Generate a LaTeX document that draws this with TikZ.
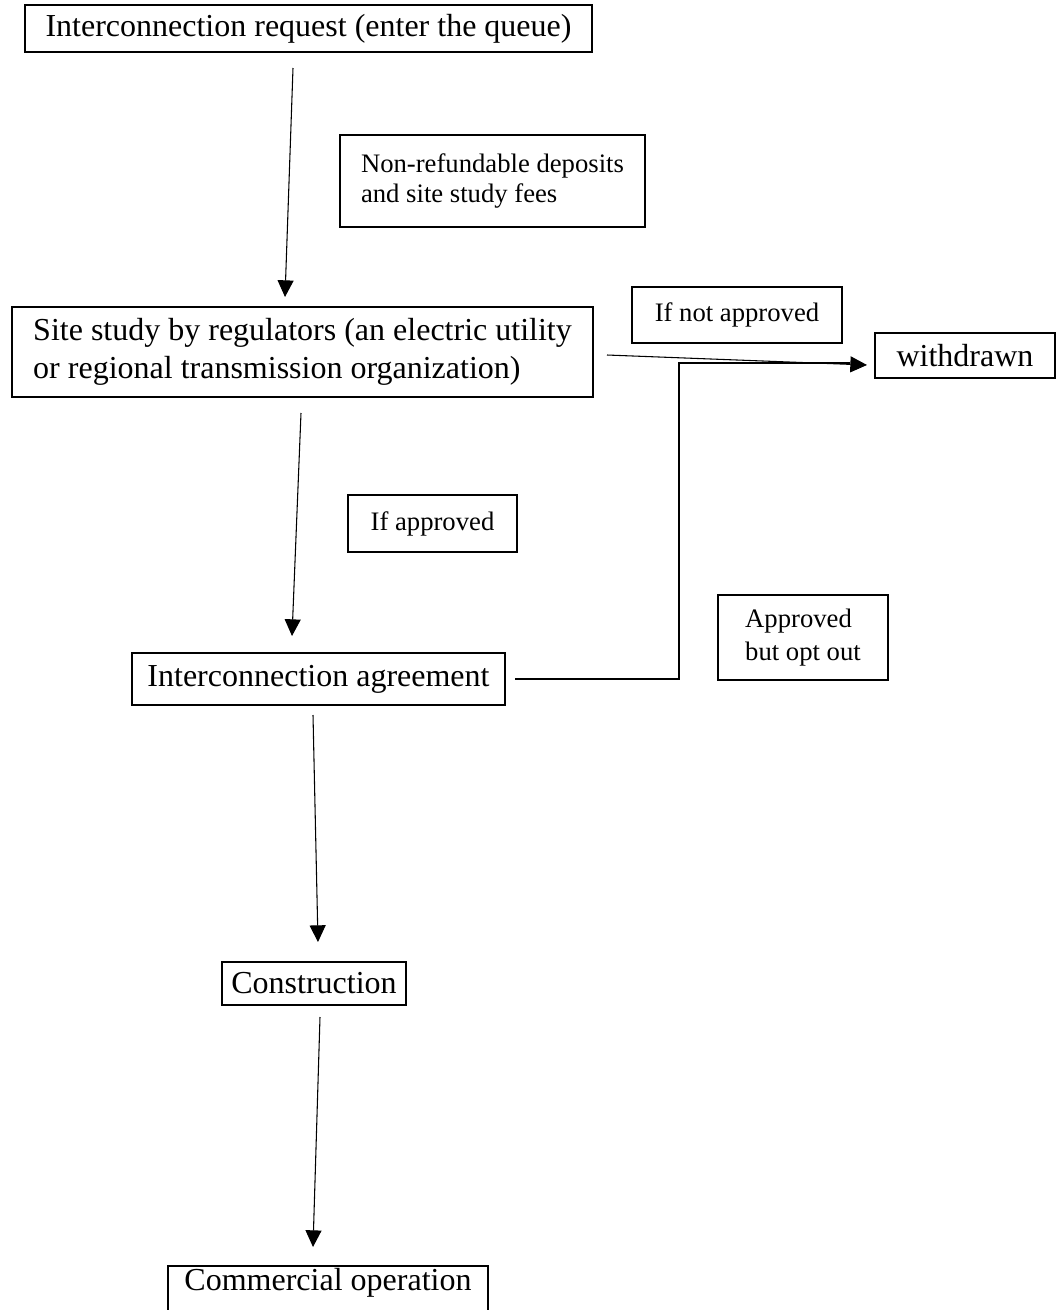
\documentclass[tikz,border=0pt]{standalone}
\usepackage{fontspec}
\setmainfont{Liberation Serif}
\usetikzlibrary{arrows.meta}
\tikzset{
  box/.style={draw, line width=1.5pt, inner sep=0pt, font=\fontsize{24}{28}\selectfont},
  smallbox/.style={draw, line width=1.5pt, inner sep=0pt, font=\fontsize{20}{23}\selectfont},
  conn/.style={line width=0.8pt, -{Triangle[length=12.5pt,width=12pt]}},
  plain/.style={line width=0.8pt}
}
\begin{document}
\begin{tikzpicture}[x=0.75pt,y=-0.75pt]
\useasboundingbox (0,0) rectangle (1058,1310);
\clip (0,0) rectangle (1058,1310);
% boxes
\node[box, minimum width=425.25pt, minimum height=35.25pt, align=center] (req) at (308.5,28.5) {Interconnection request (enter the queue)};
\node[smallbox, minimum width=228.75pt, minimum height=69pt, align=left, font=\fontsize{20}{23}\selectfont] (fees) at (492.5,181) {Non-refundable deposits\\and site study fees};
\node[box, minimum width=435.75pt, minimum height=67.5pt, align=left, font=\fontsize{24}{28}\selectfont] (site) at (302.5,352) {Site study by regulators (an electric utility\\or regional transmission organization)};
\node[smallbox, minimum width=157.5pt, minimum height=42pt, align=center] (nap) at (737,315) {If not approved};
\node[box, minimum width=135pt, minimum height=33.75pt, align=center] (wd) at (965,355.5) {withdrawn};
\node[smallbox, minimum width=126.75pt, minimum height=42.75pt, align=center] (ap) at (432.5,523.5) {If approved};
\node[box, minimum width=279.75pt, minimum height=39pt, align=center] (agr) at (318.5,679) {Interconnection agreement};
\node[smallbox, minimum width=127.5pt, minimum height=63.75pt, align=left, font=\fontsize{20}{24.5}\selectfont] (opt) at (803,637.5) {Approved\\but opt out};
\node[box, minimum width=138pt, minimum height=32.25pt, align=center] (con) at (314,983.5) {Construction};
\node[box, minimum width=240pt, inner ysep=2pt, text height=16pt, text depth=40pt, anchor=base] (com) at (328,1290) {Commercial operation};
% connector ends
\coordinate (a1s) at (293,68);  \coordinate (a1e) at (285,297);
\coordinate (a2s) at (301,413); \coordinate (a2e) at (292,636);
\coordinate (a3s) at (313,715); \coordinate (a3e) at (318,942);
\coordinate (a4s) at (320,1017);\coordinate (a4e) at (313,1247);
\coordinate (ns) at (607,355);  \coordinate (ne) at (867,365);
\coordinate (os) at (515,679);  \coordinate (oe) at (850,363);
% connectors
\draw[conn] (a1s) -- (a1e);
\draw[conn] (a2s) -- (a2e);
\draw[conn] (a3s) -- (a3e);
\draw[conn] (a4s) -- (a4e);
\draw[conn] (ns) -- (ne);
\draw[plain] (os) -- (679,679) -- (679,363) -- (oe);
\end{tikzpicture}
\end{document}
